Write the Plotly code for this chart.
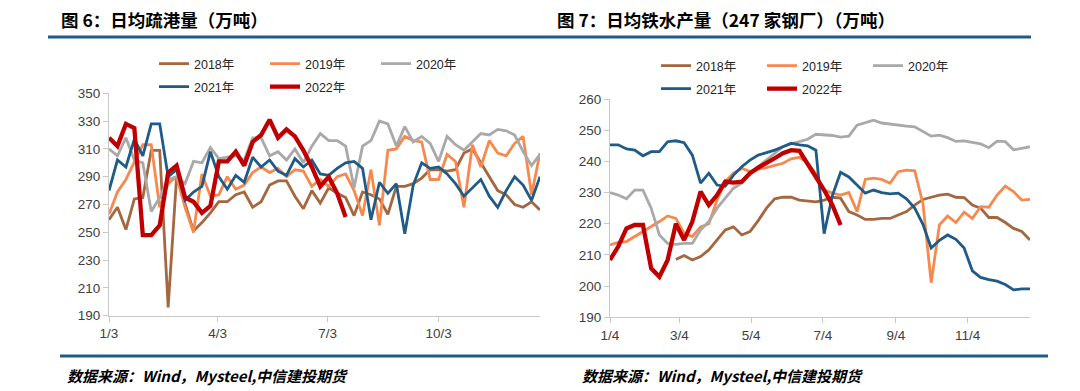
import datetime as dt
import plotly.graph_objects as go
from plotly.subplots import make_subplots

W, H = 1080, 391

# ---------------- data ----------------
# Left chart: 日均疏港量 (万吨), weekly, starting 1/3
left_start = dt.date(2022, 1, 3)
left_ticks = ["1/3", "4/3", "7/3", "10/3"]
left_tick_dates = [dt.date(2022, 1, 3), dt.date(2022, 4, 3), dt.date(2022, 7, 3), dt.date(2022, 10, 3)]

port_2018 = [259, 268, 252, 274, 275, 309, 309, 196, 290, 270, 251, 257, 264, 272, 272, 277, 279, 268, 272, 284,
             287, 287, 276, 267, 280, 271, 282, 278, 275, 262, 279, 277, 274, 263, 283, 283, 285, 289, 295, 295,
             294, 295, 307, 310, 300, 291, 280, 277, 270, 268, 272, 266]
port_2019 = [263, 279, 288, 300, 313, 313, 268, 285, 290, 268, 250, 292, 276, 277, 290, 281, 284, 293, 297, 293,
             296, 290, 295, 294, 283, 288, 283, 290, 292, 280, 262, 295, 255, 309, 310, 319, 316, 315, 288, 288,
             306, 301, 268, 313, 297, 316, 307, 305, 314, 319, 277, 307]
port_2020 = [310, 305, 318, 302, 300, 265, 275, 288, 290, 285, 301, 300, 311, 303, 304, 305, 302, 318, 318, 305,
             308, 302, 310, 300, 312, 321, 316, 316, 312, 282, 312, 316, 330, 328, 312, 326, 315, 319, 314, 301,
             319, 313, 309, 315, 321, 320, 324, 323, 320, 308, 298, 306]
port_2021 = [280, 302, 297, 317, 305, 328, 328, 290, 295, 273, 279, 283, 308, 290, 281, 291, 286, 304, 297, 302,
             294, 291, 303, 297, 302, 292, 291, 296, 300, 301, 296, 259, 286, 278, 285, 249, 284, 300, 296, 297,
             292, 285, 276, 282, 288, 276, 268, 280, 290, 284, 273, 290]
port_2022 = [318, 312, 328, 325, 248, 248, 255, 293, 298, 275, 272, 264, 269, 301, 301, 308, 298, 315, 320, 331,
             318, 324, 319, 309, 297, 283, 290, 278, 261]

# Right chart: 日均铁水产量 (247家钢厂, 万吨), weekly, starting 1/4
right_start = dt.date(2022, 1, 4)
right_ticks = ["1/4", "3/4", "5/4", "7/4", "9/4", "11/4"]
right_tick_dates = [dt.date(2022, 1, 4), dt.date(2022, 3, 4), dt.date(2022, 5, 4), dt.date(2022, 7, 4),
                    dt.date(2022, 9, 4), dt.date(2022, 11, 4)]

iron_2018 = [None, None, None, None, None, None, None, None, 208.5, 209.8, 208.4, 209.5, 211.6, 214.8, 218.0,
             219.0, 216.4, 217.5, 221.0, 225.0, 228.0, 228.5, 228.5, 227.6, 227.4, 227.0, 227.6, 228.5, 228.2,
             223.9, 222.8, 221.4, 221.4, 221.7, 221.7, 222.8, 223.9, 226.0, 227.8, 228.5, 229.2, 229.5, 228.5,
             228.4, 226.0, 225.0, 222.0, 222.0, 220.4, 218.5, 217.5, 214.8]
iron_2019 = [213.2, 214.0, 214.3, 215.9, 217.5, 219.0, 220.7, 222.5, 221.7, 216.9, 215.9, 219.0, 220.0, 227.6,
             233.5, 236.2, 237.8, 236.7, 237.5, 238.0, 238.8, 239.4, 240.8, 241.3, 239.5, 236.0, 230.8, 229.8,
             229.2, 230.0, 223.9, 234.2, 234.6, 234.2, 233.0, 236.7, 237.2, 237.0, 226.5, 201.1, 219.6, 222.5,
             220.4, 223.7, 221.7, 225.5, 225.3, 229.2, 232.1, 230.3, 227.6, 227.8]
iron_2020 = [230.0, 229.2, 228.0, 230.8, 230.8, 225.0, 216.4, 213.7, 213.4, 213.7, 213.7, 218.0, 220.7, 225.0,
             228.2, 231.4, 233.0, 236.2, 238.3, 240.4, 242.6, 244.7, 245.6, 246.3, 247.1, 248.7, 248.6, 248.3,
             247.8, 248.1, 251.6, 252.4, 253.2, 252.3, 251.9, 251.6, 251.3, 251.1, 249.7, 248.1, 248.4, 247.6,
             246.4, 246.6, 246.1, 245.6, 244.4, 246.5, 246.3, 243.7, 244.2, 244.7]
iron_2021 = [245.3, 245.3, 244.0, 243.6, 241.8, 243.1, 243.1, 246.3, 246.6, 246.0, 242.0, 233.0, 236.2, 232.4,
             232.0, 235.6, 238.3, 240.4, 242.0, 242.8, 243.6, 244.7, 245.8, 245.3, 245.0, 243.6, 216.8, 229.0,
             236.5, 235.0, 232.5, 229.8, 230.8, 230.0, 229.6, 229.8, 228.0, 225.0, 219.8, 212.2, 214.7, 216.4,
             215.0, 212.2, 204.9, 202.8, 202.1, 201.6, 200.5, 198.8, 199.1, 199.1]
iron_2022 = [208.4, 212.7, 218.5, 219.6, 219.6, 205.7, 203.0, 208.4, 220.0, 214.8, 220.7, 230.3, 226.0, 229.2,
             233.5, 233.2, 233.5, 236.2, 238.0, 239.4, 241.0, 242.6, 243.6, 243.4, 239.4, 235.1, 230.8, 226.0,
             219.6]

series_names = ["2018年", "2019年", "2020年", "2021年", "2022年"]
colors = ["#A5673F", "#F7894F", "#A9A9A9", "#1E5B88", "#C00000"]
widths = [2.8, 2.8, 2.8, 2.8, 4.3]

# ---------------- figure ----------------
def weeks(start, n):
    return [start + dt.timedelta(days=7 * k) for k in range(n)]

fig = make_subplots(rows=1, cols=2)

left_series = [port_2018, port_2019, port_2020, port_2021, port_2022]
right_series = [iron_2018, iron_2019, iron_2020, iron_2021, iron_2022]

for k, ys in enumerate(left_series):
    fig.add_trace(go.Scatter(x=weeks(left_start, len(ys)), y=ys, mode="lines", name=series_names[k],
                             line=dict(color=colors[k], width=widths[k]),
                             legend="legend" if k < 3 else "legend2", hoverinfo="skip"), row=1, col=1)
for k, ys in enumerate(right_series):
    fig.add_trace(go.Scatter(x=weeks(right_start, len(ys)), y=ys, mode="lines", name=series_names[k],
                             line=dict(color=colors[k], width=widths[k]),
                             legend="legend3" if k < 3 else "legend4", connectgaps=False,
                             hoverinfo="skip"), row=1, col=2)

tickfont = dict(family="Liberation Sans, Arial, Noto Sans CJK SC", size=13.5, color="#404040")
axis_common = dict(showgrid=False, zeroline=False, showline=True, linecolor="#C8C8C8", linewidth=1,
                   ticks="outside", tickcolor="#C8C8C8", tickfont=tickfont, automargin=False)

# page body has an 8px margin: convert window pixel positions to paper fractions
OFF = 8

def px_x(p):
    return (p - OFF) / W

def px_y(p):
    return 1 - (p - OFF) / H

fig.update_xaxes(type="date", domain=[px_x(109), px_x(540)],
                 range=[left_start, left_start + dt.timedelta(days=357)],
                 tickvals=left_tick_dates, ticktext=left_ticks, ticklen=5, **axis_common, row=1, col=1)
fig.update_yaxes(domain=[px_y(315.7), px_y(93.3)], range=[190, 350], tickvals=list(range(190, 351, 20)),
                 ticklen=5, **axis_common, row=1, col=1)
fig.update_xaxes(type="date", domain=[px_x(610), px_x(1030)],
                 range=[right_start, right_start + dt.timedelta(days=357)],
                 tickvals=right_tick_dates, ticktext=right_ticks, ticklen=5, **axis_common, row=1, col=2)
fig.update_yaxes(domain=[px_y(317.3), px_y(99)], range=[190, 260], tickvals=list(range(190, 261, 10)),
                 ticklen=5, **axis_common, row=1, col=2)

legfont = dict(family="Liberation Sans, Arial, Noto Sans CJK SC", size=12.5, color="#262626")
leg_common = dict(orientation="h", xanchor="left", yanchor="middle", font=legfont, bgcolor="rgba(0,0,0,0)",
                  itemwidth=30, entrywidthmode="pixels", itemclick=False, itemdoubleclick=False)
fig.update_layout(
    legend=dict(x=px_x(154), y=px_y(64), entrywidth=66, **leg_common),
    legend2=dict(x=px_x(154), y=px_y(87), entrywidth=66, **leg_common),
    legend3=dict(x=px_x(656), y=px_y(66), entrywidth=61, **leg_common),
    legend4=dict(x=px_x(656), y=px_y(89), entrywidth=61, **leg_common),
)

titlefont = dict(family="Noto Sans CJK SC, Liberation Sans", size=17.5, color="#000000", weight="bold")
footfont = dict(family="Noto Sans CJK SC, Liberation Serif", size=15, color="#000000", weight="bold",
                style="italic")
fig.add_annotation(text="图 6：日均疏港量（万吨）", xref="paper", yref="paper", x=px_x(59), y=px_y(19.5),
                   xanchor="left", yanchor="middle", showarrow=False, font=titlefont)
fig.add_annotation(text="图 7：日均铁水产量（247 家钢厂）（万吨）", xref="paper", yref="paper",
                   x=px_x(555), y=px_y(19.5), xanchor="left", yanchor="middle", showarrow=False, font=titlefont)
for fx in (65, 580):
    fig.add_annotation(text="数据来源：Wind，Mysteel,中信建投期货", xref="paper", yref="paper",
                       x=px_x(fx), y=px_y(375), xanchor="left", yanchor="middle", showarrow=False,
                       font=footfont)

rule = dict(color="#1F5A8C", width=3)
fig.add_shape(type="line", xref="paper", yref="paper", x0=px_x(48), x1=px_x(1031), y0=px_y(37), y1=px_y(37),
              line=rule)
fig.add_shape(type="line", xref="paper", yref="paper", x0=px_x(60), x1=px_x(1048), y0=px_y(356), y1=px_y(356),
              line=rule)

fig.update_layout(width=W, height=H, margin=dict(l=0, r=0, t=0, b=0, autoexpand=False),
                  paper_bgcolor="white", plot_bgcolor="white", showlegend=True)

fig.write_html("out.html")
